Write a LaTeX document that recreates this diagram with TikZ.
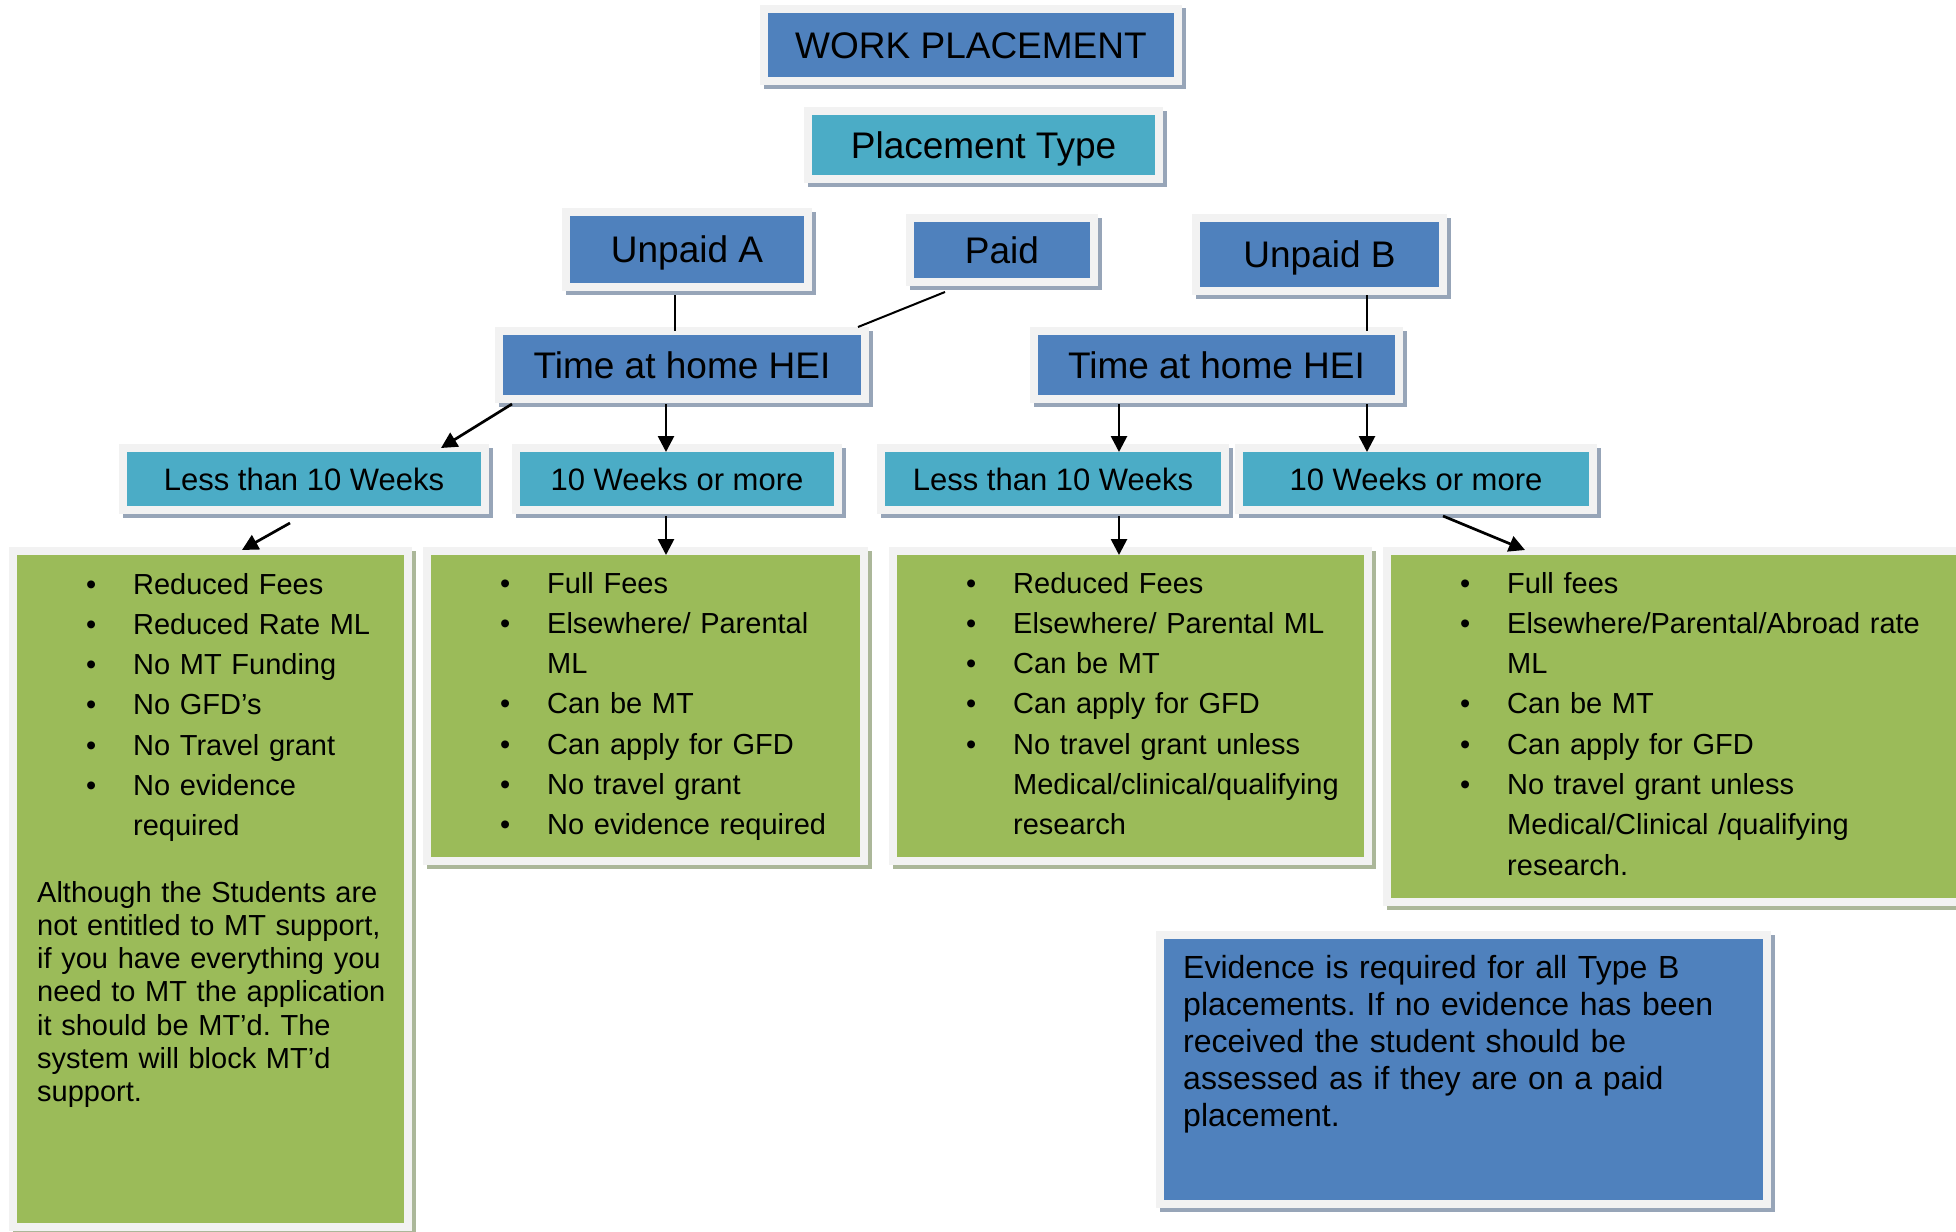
\documentclass[tikz,border=0pt]{standalone}
\usepackage{fontspec}
\setmainfont{Liberation Sans}
\usetikzlibrary{positioning,arrows.meta,shadows}

\definecolor{hdblue}{HTML}{4F81BD}
\definecolor{hdteal}{HTML}{4BACC6}
\definecolor{hdgreen}{HTML}{9BBB59}
\definecolor{framegray}{HTML}{F2F2F2}
\definecolor{shadblue}{HTML}{97A5B8}
\definecolor{shadgreen}{HTML}{ABB799}

\newcommand{\bitem}[1]{\hangindent=47pt\hangafter=1\makebox[47pt][l]{\textbullet}#1\par}
\frenchspacing

\begin{document}
\begin{tikzpicture}[x=1pt,y=-1pt,
  box/.style={rectangle, fill=#1, draw=framegray, line width=8pt, inner sep=0pt, outer sep=0pt},
  shb/.style={drop shadow={shadow xshift=3.5pt, shadow yshift=-3.5pt, opacity=1, fill=shadblue, draw=shadblue}},
  shg/.style={drop shadow={shadow xshift=3.5pt, shadow yshift=-3.5pt, opacity=1, fill=shadgreen, draw=shadgreen}},
  topbox/.style={box=#1, shb, text height=26.5pt, text depth=0pt, font=\fontsize{37}{44}\selectfont},
  weekbox/.style={box=hdteal, shb, text height=22.2pt, text depth=0pt, font=\fontsize{31}{37}\selectfont},
  listbox/.style={box=hdgreen, shg},
  listtxt/.style={inner sep=0pt, anchor=base west, align=left, text width=#1, font=\fontsize{29}{40.3}\selectfont},
  joinline/.style={line width=2pt},
  flowarrow/.style={line width=2.7pt, -{Triangle[length=16pt,width=16pt]}}]

  \path[use as bounding box, clip] (0,0) rectangle (1956,1231);

  \node[topbox=hdblue, minimum width=414pt, minimum height=72pt] (wp) at (971,45) {WORK PLACEMENT};
  \node[topbox=hdteal, minimum width=351pt, minimum height=68pt] (ptype) at (983.5,145) {Placement Type};

  \node[topbox=hdblue, minimum width=242pt, minimum height=75pt] (unpa) at (687,249.5) {Unpaid A};
  \node[topbox=hdblue, minimum width=184pt, minimum height=64pt] (paid) at (1002,250) {Paid};
  \node[topbox=hdblue, minimum width=247pt, minimum height=73pt] (unpb) at (1319.5,254.5) {Unpaid B};

  \node[topbox=hdblue, minimum width=366pt, minimum height=68pt] (timea) at (682,365) {Time at home HEI};
  \node[topbox=hdblue, minimum width=365pt, minimum height=68pt] (timeb) at (1216.5,365) {Time at home HEI};

  \node[weekbox, minimum width=362pt, minimum height=62pt] (lessa) at (304,479) {Less than 10 Weeks};
  \node[weekbox, minimum width=322pt, minimum height=62pt] (morea) at (677,479) {10 Weeks or more};
  \node[weekbox, minimum width=344pt, minimum height=62pt] (lessb) at (1053,479) {Less than 10 Weeks};
  \node[weekbox, minimum width=354pt, minimum height=62pt] (moreb) at (1416,479) {10 Weeks or more};

  \node[listbox, minimum width=395pt, minimum height=676pt] (lista) at (210.5,889) {};
  \node[listbox, minimum width=437pt, minimum height=310pt] (listb) at (645.5,706) {};
  \node[listbox, minimum width=475pt, minimum height=310pt] (listc) at (1130.5,706) {};
  \node[listbox, minimum width=573pt, minimum height=351pt] (listd) at (1673.5,726.5) {};
  \node[box=hdblue, shb, minimum width=607pt, minimum height=269pt] (evid) at (1463.5,1069.5) {};

  \node[listtxt=320pt] (txta) at (86,594) {%
    \bitem{Reduced Fees}
    \bitem{Reduced Rate ML}
    \bitem{No MT Funding}
    \bitem{No GFD’s}
    \bitem{No Travel grant}
    \bitem{No evidence\newline required}};
  \node[listtxt=370pt, font=\fontsize{29}{33.3}\selectfont] (txtnote) at (37,902) {%
    Although the Students are\newline
    not entitled to MT support,\newline
    if you have everything you\newline
    need to MT the application\newline
    it should be MT’d. The\newline
    system will block MT’d\newline
    support.};
  \node[listtxt=360pt] (txtb) at (500,593) {%
    \bitem{Full Fees}
    \bitem{Elsewhere/ Parental\newline ML}
    \bitem{Can be MT}
    \bitem{Can apply for GFD}
    \bitem{No travel grant}
    \bitem{No evidence required}};
  \node[listtxt=390pt] (txtc) at (966,593) {%
    \bitem{Reduced Fees}
    \bitem{Elsewhere/ Parental ML}
    \bitem{Can be MT}
    \bitem{Can apply for GFD}
    \bitem{No travel grant unless\newline Medical/clinical/qualifying\newline research}};
  \node[listtxt=480pt] (txtd) at (1460,593) {%
    \bitem{Full fees}
    \bitem{Elsewhere/Parental/Abroad rate\newline ML}
    \bitem{Can be MT}
    \bitem{Can apply for GFD}
    \bitem{No travel grant unless\newline Medical/Clinical /qualifying\newline research.}};
  \node[listtxt=560pt, font=\fontsize{32}{37}\selectfont] (txtevid) at (1183,978) {%
    Evidence is required for all Type B\newline
    placements. If no evidence has been\newline
    received the student should be\newline
    assessed as if they are on a paid\newline
    placement.};

  \draw[joinline] ([xshift=-12pt,yshift=-8pt]unpa.south) -- ([xshift=-12pt]unpa.south |- timea.north);
  \draw[joinline] ([xshift=-57pt,yshift=-10pt]paid.south) -- ([xshift=-7pt,yshift=4pt]timea.north east);
  \draw[joinline] ([xshift=47.5pt,yshift=-4pt]unpb.south) -- ([xshift=47.5pt]unpb.south |- timeb.north);

  \path[flowarrow] ([xshift=13pt,yshift=-5pt]timea.south west) edge ([xshift=-44pt]lessa.north east);
  \path[flowarrow] ([xshift=-16pt,yshift=-5pt]timea.south) edge ([xshift=-11pt,yshift=-4pt]morea.north);
  \path[flowarrow] ([xshift=85pt,yshift=-5pt]timeb.south west) edge ([xshift=66pt,yshift=-4pt]lessb.north);
  \path[flowarrow] ([xshift=-32pt,yshift=-5pt]timeb.south east) edge ([xshift=-49pt,yshift=-4pt]moreb.north);

  \path[flowarrow] ([xshift=-14pt,yshift=-13pt]lessa.south) edge ([xshift=31.5pt,yshift=1pt]lista.north);
  \path[flowarrow] ([xshift=-11pt,yshift=-6pt]morea.south) edge ([xshift=20.5pt,yshift=-4pt]listb.north);
  \path[flowarrow] ([xshift=66pt,yshift=-6pt]lessb.south) edge ([xshift=-11.5pt,yshift=-4pt]listc.north);
  \path[flowarrow] ([xshift=27pt,yshift=-6pt]moreb.south) edge ([xshift=-148.5pt,yshift=1pt]listd.north);

\end{tikzpicture}
\end{document}
